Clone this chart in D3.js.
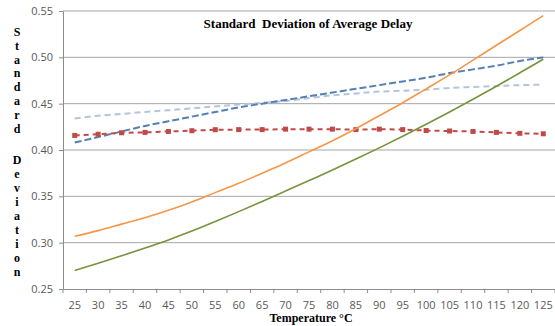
<!DOCTYPE html>
<html>
<head>
<meta charset="utf-8">
<script src="https://cdn.jsdelivr.net/npm/d3@7"></script>
<style>
  body { margin: 0; background: #fff; }
  svg { display: block; }
</style>
</head>
<body>
<svg id="chart"></svg>
<script>
// Data.
var temps = [25, 30, 35, 40, 45, 50, 55, 60, 65, 70, 75, 80, 85, 90, 95, 100, 105, 110, 115, 120, 125];
var orangeVals = [0.307, 0.313, 0.320, 0.327, 0.335, 0.344, 0.354, 0.364, 0.375, 0.386, 0.398, 0.410, 0.423, 0.437, 0.451, 0.466, 0.481, 0.497, 0.513, 0.529, 0.545];
var greenVals = [0.270, 0.2778, 0.2858, 0.2942, 0.3030, 0.3125, 0.3228, 0.3335, 0.3445, 0.3557, 0.367, 0.3784, 0.3902, 0.4023, 0.4148, 0.4277, 0.4410, 0.4547, 0.4688, 0.4833, 0.498];
var blueVals = [0.408, 0.414, 0.420, 0.426, 0.431, 0.436, 0.441, 0.446, 0.450, 0.454, 0.458, 0.462, 0.466, 0.470, 0.474, 0.478, 0.483, 0.487, 0.491, 0.496, 0.500];
var lightVals = [0.434, 0.437, 0.439, 0.441, 0.443, 0.445, 0.447, 0.449, 0.451, 0.453, 0.456, 0.459, 0.461, 0.463, 0.464, 0.465, 0.467, 0.468, 0.469, 0.470, 0.4705];
var redVals = [0.4157, 0.417, 0.4186, 0.419, 0.420, 0.4208, 0.4219, 0.422, 0.422, 0.4225, 0.4225, 0.4225, 0.422, 0.4225, 0.422, 0.421, 0.4205, 0.420, 0.419, 0.418, 0.4175];
var yTicks = [0.25, 0.30, 0.35, 0.40, 0.45, 0.50, 0.55];

var W = 555, H = 326;
var margin = { top: 11, right: 0, bottom: 37, left: 63 };
var width = W - margin.left - margin.right;
var height = H - margin.top - margin.bottom;

var svg = d3.select("#chart").attr("width", W).attr("height", H);
var g = svg.append("g").attr("transform", "translate(" + margin.left + "," + margin.top + ")");

var xScale = d3.scaleBand().domain(temps).range([0, width]);
var yScale = d3.scaleLinear().domain([0.25, 0.55]).range([height, 0]);
var xMid = function (t) { return xScale(t) + xScale.bandwidth() / 2; };

// Gridlines.
g.append("g").selectAll("line")
    .data(yTicks.slice(1))
    .enter().append("line")
    .attr("x1", 0).attr("x2", width)
    .attr("y1", d => yScale(d)).attr("y2", d => yScale(d))
    .attr("stroke", "#a6a6a6").attr("stroke-width", 1);

// Y axis.
var yAxis = g.append("g")
    .call(d3.axisLeft(yScale).tickValues(yTicks).tickFormat(d3.format(".2f")).tickSize(4).tickSizeOuter(0));
yAxis.select(".domain").attr("stroke", "#8c8c8c");
yAxis.selectAll(".tick line").attr("stroke", "#8c8c8c");
yAxis.selectAll(".tick text")
    .attr("x", -10)
    .style("font-family", "'Open Sans', sans-serif").style("font-size", "11px").attr("fill", "#595959");

// X axis.
var xAxis = g.append("g")
    .attr("transform", "translate(0," + height + ")")
    .call(d3.axisBottom(xScale).tickSize(0).tickSizeOuter(0));
xAxis.select(".domain").attr("stroke", "#8c8c8c");
xAxis.selectAll(".tick text")
    .attr("y", 12)
    .style("font-family", "'Open Sans', sans-serif").style("font-size", "11px").attr("fill", "#595959");
// Tick marks between categories.
xAxis.append("g").selectAll("line")
    .data(temps.concat(["end"]))
    .enter().append("line")
    .attr("x1", (d, i) => i * xScale.bandwidth()).attr("x2", (d, i) => i * xScale.bandwidth())
    .attr("y1", 0).attr("y2", 4)
    .attr("stroke", "#8c8c8c");

// Series.
var line = d3.line().x((d, i) => xMid(temps[i])).y(d => yScale(d));
var lineSmooth = d3.line().x((d, i) => xMid(temps[i])).y(d => yScale(d)).curve(d3.curveMonotoneX);

g.append("path").datum(lightVals).attr("d", lineSmooth)
    .attr("fill", "none").attr("stroke", "#b3c5dc").attr("stroke-width", 2).attr("stroke-dasharray", "6,4");
g.append("path").datum(blueVals).attr("d", lineSmooth)
    .attr("fill", "none").attr("stroke", "#5580b3").attr("stroke-width", 2).attr("stroke-dasharray", "7,3");
g.append("path").datum(redVals).attr("d", line)
    .attr("fill", "none").attr("stroke", "#be4b48").attr("stroke-width", 2).attr("stroke-dasharray", "5,4");
g.append("g").selectAll("rect")
    .data(redVals)
    .enter().append("rect")
    .attr("x", (d, i) => xMid(temps[i]) - 2.5)
    .attr("y", d => yScale(d) - 2.5)
    .attr("width", 5).attr("height", 5)
    .attr("fill", "#be4b48");
g.append("path").datum(orangeVals).attr("d", lineSmooth)
    .attr("fill", "none").attr("stroke", "#f79646").attr("stroke-width", 1.6);
g.append("path").datum(greenVals).attr("d", lineSmooth)
    .attr("fill", "none").attr("stroke", "#77933c").attr("stroke-width", 1.6);

// Title.
svg.append("text")
    .attr("x", 308).attr("y", 28)
    .attr("text-anchor", "middle")
    .style("font-family", "'Liberation Serif', serif").style("font-weight", "bold").style("font-size", "13px")
    .attr("fill", "#000")
    .attr("xml:space", "preserve")
    .text("Standard  Deviation of Average Delay");

// X title.
svg.append("text")
    .attr("x", 311).attr("y", 322)
    .attr("text-anchor", "middle")
    .style("font-family", "'Liberation Serif', serif").style("font-weight", "bold").style("font-size", "12px")
    .attr("fill", "#000")
    .text("Temperature  \u00B0C");

// Y title: stacked letters.
var yTitle = svg.append("text")
    .attr("text-anchor", "middle")
    .style("font-family", "'Liberation Serif', serif").style("font-weight", "bold").style("font-size", "12px")
    .attr("fill", "#000");
var word1 = "Standard".split(""), word2 = "Deviation".split("");
yTitle.selectAll("tspan.w1").data(word1).enter().append("tspan")
    .attr("class", "w1")
    .attr("x", 17).attr("y", (d, i) => 36 + i * 13.8)
    .text(d => d);
yTitle.selectAll("tspan.w2").data(word2).enter().append("tspan")
    .attr("class", "w2")
    .attr("x", 17).attr("y", (d, i) => 164 + i * 14)
    .text(d => d);
</script>
</body>
</html>
